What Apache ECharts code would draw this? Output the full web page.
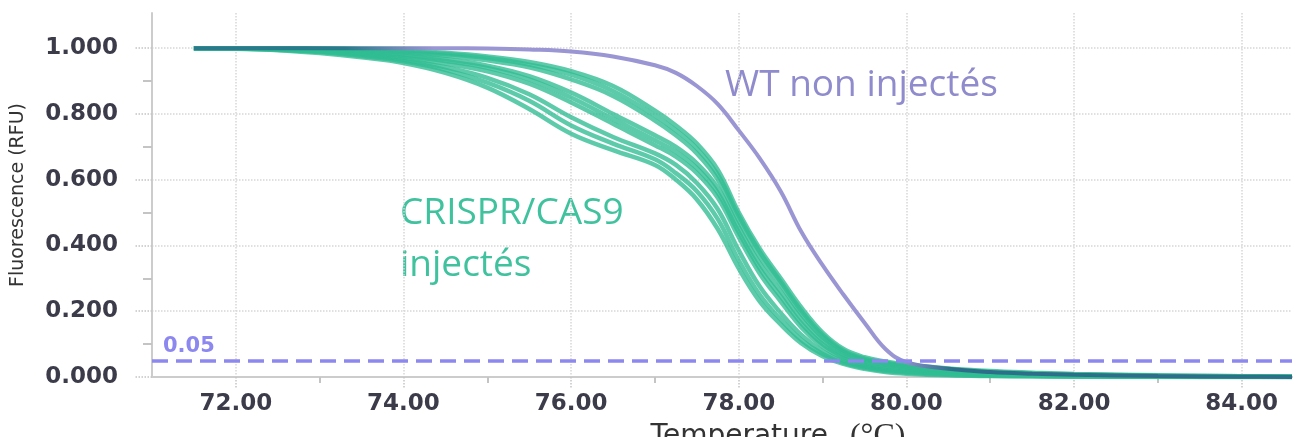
<!DOCTYPE html>
<html>
<head>
<meta charset="utf-8">
<title>Fluorescence (RFU)</title>
<script src="https://cdn.jsdelivr.net/npm/echarts@6.0.0/dist/echarts.min.js"></script>
<style>
    html, body { margin: 0; padding: 0; background: #fff; }
    #main { width: 1299px; height: 437px; }
</style>
</head>
<body>
<div id="main"></div>
<script>
// temperatures (°C)
var temps = [71.5, 72, 72.5, 73, 73.5, 74, 74.5, 75, 75.5, 76, 76.5, 77, 77.25, 77.5, 77.75, 78,
    78.25, 78.5, 78.75, 79, 79.25, 79.5, 79.75, 80, 80.5, 81, 81.5, 82, 83, 84, 84.6];

// WT non injectés
var wtValues = [1.0, 1.0, 1.0, 1.0, 1.0, 1.0, 1.0, 0.999, 0.996, 0.99, 0.975, 0.948, 0.925, 0.885, 0.83, 0.75,
    0.665, 0.565, 0.44, 0.34, 0.25, 0.165, 0.085, 0.045, 0.025, 0.015, 0.01, 0.007, 0.003, 0.001, 0];

// CRISPR/CAS9 injectés
var crisprA = [1.0, 1.0, 1.0, 0.999, 0.997, 0.993, 0.986, 0.975, 0.958, 0.93, 0.885, 0.81, 0.765, 0.71, 0.63, 0.50,
    0.39, 0.30, 0.21, 0.135, 0.085, 0.06, 0.047, 0.038, 0.026, 0.018, 0.013, 0.009, 0.005, 0.002, 0.001];
var crisprB = [1.0, 1.0, 1.0, 0.998, 0.995, 0.99, 0.982, 0.97, 0.95, 0.92, 0.87, 0.795, 0.75, 0.695, 0.615, 0.49,
    0.38, 0.29, 0.20, 0.128, 0.08, 0.056, 0.044, 0.035, 0.024, 0.016, 0.011, 0.008, 0.004, 0.002, 0.001];
var crisprC = [1.0, 1.0, 0.999, 0.997, 0.993, 0.987, 0.977, 0.963, 0.942, 0.905, 0.855, 0.78, 0.735, 0.68, 0.60, 0.475,
    0.365, 0.28, 0.19, 0.12, 0.075, 0.052, 0.041, 0.032, 0.022, 0.014, 0.01, 0.007, 0.004, 0.002, 0.001];
var crisprD = [1.0, 1.0, 0.999, 0.995, 0.99, 0.98, 0.967, 0.947, 0.915, 0.865, 0.80, 0.735, 0.70, 0.65, 0.575, 0.455,
    0.345, 0.26, 0.175, 0.11, 0.068, 0.047, 0.037, 0.029, 0.019, 0.012, 0.008, 0.006, 0.003, 0.001, 0.001];
var crisprE = [1.0, 1.0, 0.998, 0.994, 0.987, 0.976, 0.961, 0.94, 0.905, 0.85, 0.785, 0.72, 0.685, 0.635, 0.56, 0.44,
    0.33, 0.245, 0.162, 0.1, 0.062, 0.042, 0.032, 0.025, 0.016, 0.01, 0.007, 0.005, 0.002, 0.001, 0];
var crisprF = [1.0, 0.999, 0.997, 0.992, 0.984, 0.971, 0.953, 0.93, 0.892, 0.835, 0.77, 0.705, 0.67, 0.62, 0.545, 0.425,
    0.315, 0.23, 0.15, 0.092, 0.056, 0.037, 0.027, 0.021, 0.013, 0.008, 0.005, 0.004, 0.002, 0.001, 0];
var crisprG = [1.0, 0.999, 0.996, 0.99, 0.98, 0.965, 0.942, 0.91, 0.86, 0.79, 0.73, 0.68, 0.645, 0.59, 0.51, 0.385,
    0.275, 0.195, 0.127, 0.078, 0.048, 0.032, 0.022, 0.016, 0.009, 0.005, 0.003, 0.002, 0.001, 0, 0];
var crisprH = [1.0, 0.999, 0.995, 0.988, 0.976, 0.96, 0.934, 0.895, 0.84, 0.765, 0.71, 0.662, 0.62, 0.565, 0.48, 0.355,
    0.25, 0.175, 0.112, 0.07, 0.043, 0.028, 0.018, 0.013, 0.007, 0.004, 0.003, 0.002, 0.001, 0, 0];
var crisprI = [1.0, 0.998, 0.994, 0.985, 0.972, 0.955, 0.925, 0.88, 0.815, 0.74, 0.69, 0.645, 0.60, 0.54, 0.45, 0.33,
    0.23, 0.16, 0.102, 0.063, 0.04, 0.025, 0.015, 0.01, 0.005, 0.003, 0.002, 0.001, 0, 0, 0];

// ticks
var xTicks = [72, 74, 76, 78, 80, 82, 84];
var xMinorTicks = [73, 75, 77, 79, 81, 83];
var yTicks = [0, 0.2, 0.4, 0.6, 0.8, 1.0];
var yMinorTicks = [0.1, 0.3, 0.5, 0.7, 0.9];
var threshold = 0.05;

var chart = echarts.init(document.getElementById('main'), null, { renderer: 'canvas' });

function pairs(values) {
    return temps.map(function (t, i) {
        return [t, values[i]];
    });
}

var borderColor = '#cccccc';
var labelStyle = {
    fontFamily: 'DejaVu Sans',
    fontWeight: 'bold',
    fontSize: 23,
    color: '#3b3b4a'
};

//WT : teinte foncée aux extrémités, violet au milieu
var wtColor = new echarts.graphic.LinearGradient(0, 0, 1, 0, [
    { offset: 0, color: '#2b7a8c' },
    { offset: 0.14, color: '#2b7a8c' },
    { offset: 0.22, color: '#9a95d3' },
    { offset: 0.64, color: '#9a95d3' },
    { offset: 0.69, color: '#2d6f8a' },
    { offset: 1, color: '#2d6f8a' }
]);

var series = [crisprA, crisprB, crisprC, crisprD, crisprE, crisprF, crisprG, crisprH, crisprI].map(function (vals) {
    return {
        type: 'line',
        data: pairs(vals),
        symbol: 'none',
        smooth: 0.4,
        silent: true,
        lineStyle: { color: 'rgba(48,188,146,0.78)', width: 4.5 }
    };
});

series.push({
    type: 'line',
    data: pairs(wtValues),
    symbol: 'none',
    smooth: 0.4,
    silent: true,
    lineStyle: { color: wtColor, width: 4 },
    markLine: {
        silent: true,
        symbol: 'none',
        data: [{ yAxis: threshold }],
        lineStyle: { color: '#8d88f0', type: [16, 8], width: 3.5 },
        label: {
            show: true,
            position: 'insideStartTop',
            formatter: threshold.toFixed(2),
            distance: [11, 4],
            fontFamily: 'DejaVu Sans',
            fontWeight: 'bold',
            fontSize: 21,
            color: '#8d88f0'
        }
    }
});

var option = {
    animation: false,
    backgroundColor: '#fff',
    grid: { left: 152, top: 13, right: 7, bottom: 60, outerBoundsMode: 'none' },
    xAxis: [{
        type: 'value',
        min: 71,
        max: 84.6,
        position: 'bottom',
        name: '{a|Temperature}{b|(°C)}',
        nameLocation: 'middle',
        nameGap: 40,
        nameTextStyle: {
            padding: [0, 0, 0, 112],
            rich: {
                a: { fontFamily: 'DejaVu Sans', fontSize: 28, color: '#333' },
                b: { fontFamily: 'Liberation Serif', fontSize: 32, color: '#333', padding: [0, 0, 0, 22] }
            }
        },
        axisLine: { show: true, lineStyle: { color: borderColor, width: 2 } },
        axisTick: { show: true, customValues: xTicks, length: 12, lineStyle: { color: '#c4c4c4', type: 'dotted', width: 1.5 } },
        axisLabel: Object.assign({ customValues: xTicks, margin: 16, formatter: function (v) { return v.toFixed(2); } }, labelStyle),
        splitLine: { show: true, lineStyle: { color: '#d6d6d6', type: 'dotted', width: 1.5 } }
    }, {
        type: 'value',
        min: 71,
        max: 84.6,
        position: 'top',
        axisLine: { show: true, lineStyle: { color: borderColor, width: 2 } },
        axisTick: { show: false },
        axisLabel: { show: false },
        splitLine: { show: false }
    }, {
        type: 'value',
        min: 71,
        max: 84.6,
        position: 'bottom',
        axisLine: { show: false },
        axisTick: { show: true, customValues: xMinorTicks, length: 6, lineStyle: { color: '#c4c4c4', width: 2 } },
        axisLabel: { show: false },
        splitLine: { show: false }
    }],
    yAxis: [{
        type: 'value',
        min: 0,
        max: 1.107,
        position: 'left',
        name: 'Fluorescence (RFU)',
        nameLocation: 'middle',
        nameGap: 124,
        nameTextStyle: { fontFamily: 'DejaVu Sans', fontSize: 19, color: '#333' },
        axisLine: { show: true, lineStyle: { color: borderColor, width: 2 } },
        axisTick: { show: true, customValues: yTicks, length: 18, lineStyle: { color: '#c4c4c4', type: 'dotted', width: 1.5 } },
        axisLabel: Object.assign({ customValues: yTicks, margin: 34, formatter: function (v) { return v.toFixed(3); } }, labelStyle),
        splitLine: { show: true, lineStyle: { color: '#d6d6d6', type: 'dotted', width: 1.5 } }
    }, {
        type: 'value',
        min: 0,
        max: 1.107,
        position: 'left',
        axisLine: { show: false },
        axisTick: { show: true, customValues: yMinorTicks, length: 9, lineStyle: { color: '#c4c4c4', width: 2 } },
        axisLabel: { show: false },
        splitLine: { show: false }
    }],
    graphic: [{
        type: 'text',
        left: 725,
        top: 67,
        style: { text: 'WT non injectés', fontFamily: 'Open Sans', fontSize: 37, fill: '#8f8bcc' }
    }, {
        type: 'text',
        left: 400,
        top: 187,
        style: { text: 'CRISPR/CAS9\ninjectés', fontFamily: 'Open Sans', fontSize: 37, lineHeight: 52, fill: '#3fc29d' }
    }],
    series: series
};

chart.setOption(option);
</script>
</body>
</html>
